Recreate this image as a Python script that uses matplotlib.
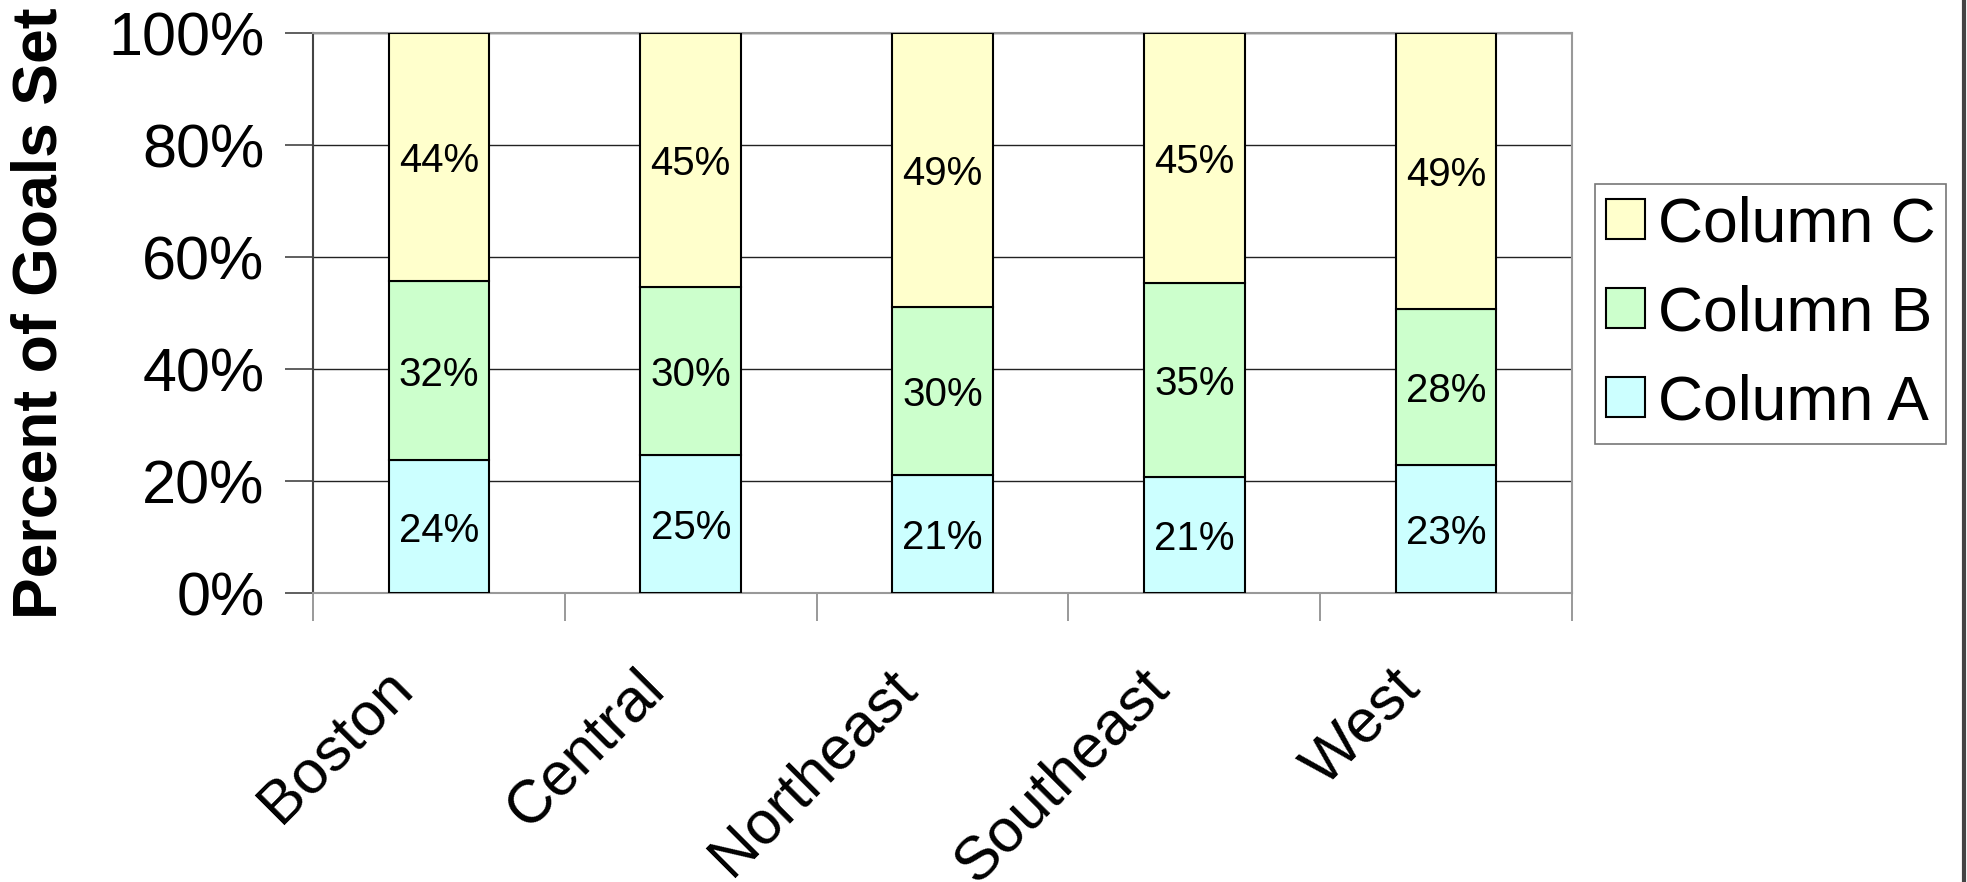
import matplotlib.pyplot as plt
import matplotlib.transforms as mtransforms
from matplotlib.lines import Line2D
import numpy as np

regions = ["Boston", "Central", "Northeast", "Southeast", "West"]
col_a = [23.8, 24.7, 21.1, 20.7, 22.9]
col_b = [31.9, 29.9, 29.9, 34.6, 27.9]
col_c = [44.3, 45.4, 49.0, 44.7, 49.2]
series = [("Column A", col_a, "#CCFFFF"),
          ("Column B", col_b, "#CCFFCC"),
          ("Column C", col_c, "#FFFFCC")]

plt.rcParams['font.family'] = ['Liberation Sans', 'DejaVu Sans']

fig = plt.figure(figsize=(19.67, 8.82), dpi=100)
ax = fig.add_axes([313 / 1967, 1 - 593 / 882, (1572 - 313) / 1967, (593 - 33) / 882])

x = np.arange(len(regions))
bottom = np.zeros(len(regions))
handles = []
for name, vals, color in series:
    vals = np.array(vals)
    bars = ax.bar(x, vals, 0.4, bottom=bottom, color=color, edgecolor="black",
                  linewidth=1.5, label=name, zorder=3)
    handles.append(bars)
    for xi, b, v in zip(x, bottom, vals):
        ax.annotate(f"{v:.0f}%", (xi, b + v / 2), xytext=(0, -3),
                    textcoords="offset points", ha="center", va="center",
                    fontsize=29, zorder=4)
    bottom += vals

ax.set_xlim(-0.5, len(regions) - 0.5)
ax.set_ylim(0, 100)
ax.set_yticks(np.arange(0, 101, 20))
ax.set_yticklabels([f"{v}%" for v in range(0, 101, 20)], fontsize=44)
ax.yaxis.grid(True, color="#222222", linewidth=1.0, zorder=0)
ax.tick_params(axis="y", length=20, width=1.2, color="#444444", pad=15)

ax.set_xticks(x)
ax.set_xticklabels(regions, fontsize=44, rotation=45, ha="right", va="center",
                   rotation_mode="anchor")
ax.tick_params(axis="x", which="major", length=0, pad=62)
shift = mtransforms.ScaledTranslation(-35 / 100, 0, fig.dpi_scale_trans)
for lbl in ax.get_xticklabels():
    lbl.set_transform(lbl.get_transform() + shift)
ax.set_xticks(np.arange(-0.5, len(regions)), minor=True)
ax.tick_params(axis="x", which="minor", length=20, width=1.2, color="#888888")

for s in ["top", "right", "bottom"]:
    ax.spines[s].set_color("#999999")
    ax.spines[s].set_linewidth(1.5)
ax.spines["left"].set_color("#444444")
ax.spines["left"].set_linewidth(1.5)

fig.text(40 / 1967, 1 - 313 / 882, "Percent of Goals Set", rotation=90,
         fontsize=45, fontweight="bold", ha="center", va="center")

leg = fig.legend(handles[::-1], [s[0] for s in series][::-1],
                 loc="upper left", bbox_to_anchor=(1595 / 1967, 1 - 184 / 882),
                 fontsize=45, frameon=True, fancybox=False, edgecolor="#555555",
                 handlelength=0.62, handleheight=0.6, handletextpad=0.2,
                 labelspacing=0.48, borderpad=0.18, borderaxespad=0)
leg.get_frame().set_linewidth(1.2)

fig.add_artist(Line2D([1 - 3 / 1967, 1 - 3 / 1967], [0, 1], color="#444444",
                      linewidth=3, transform=fig.transFigure))

fig.savefig("out.png", dpi=100)
